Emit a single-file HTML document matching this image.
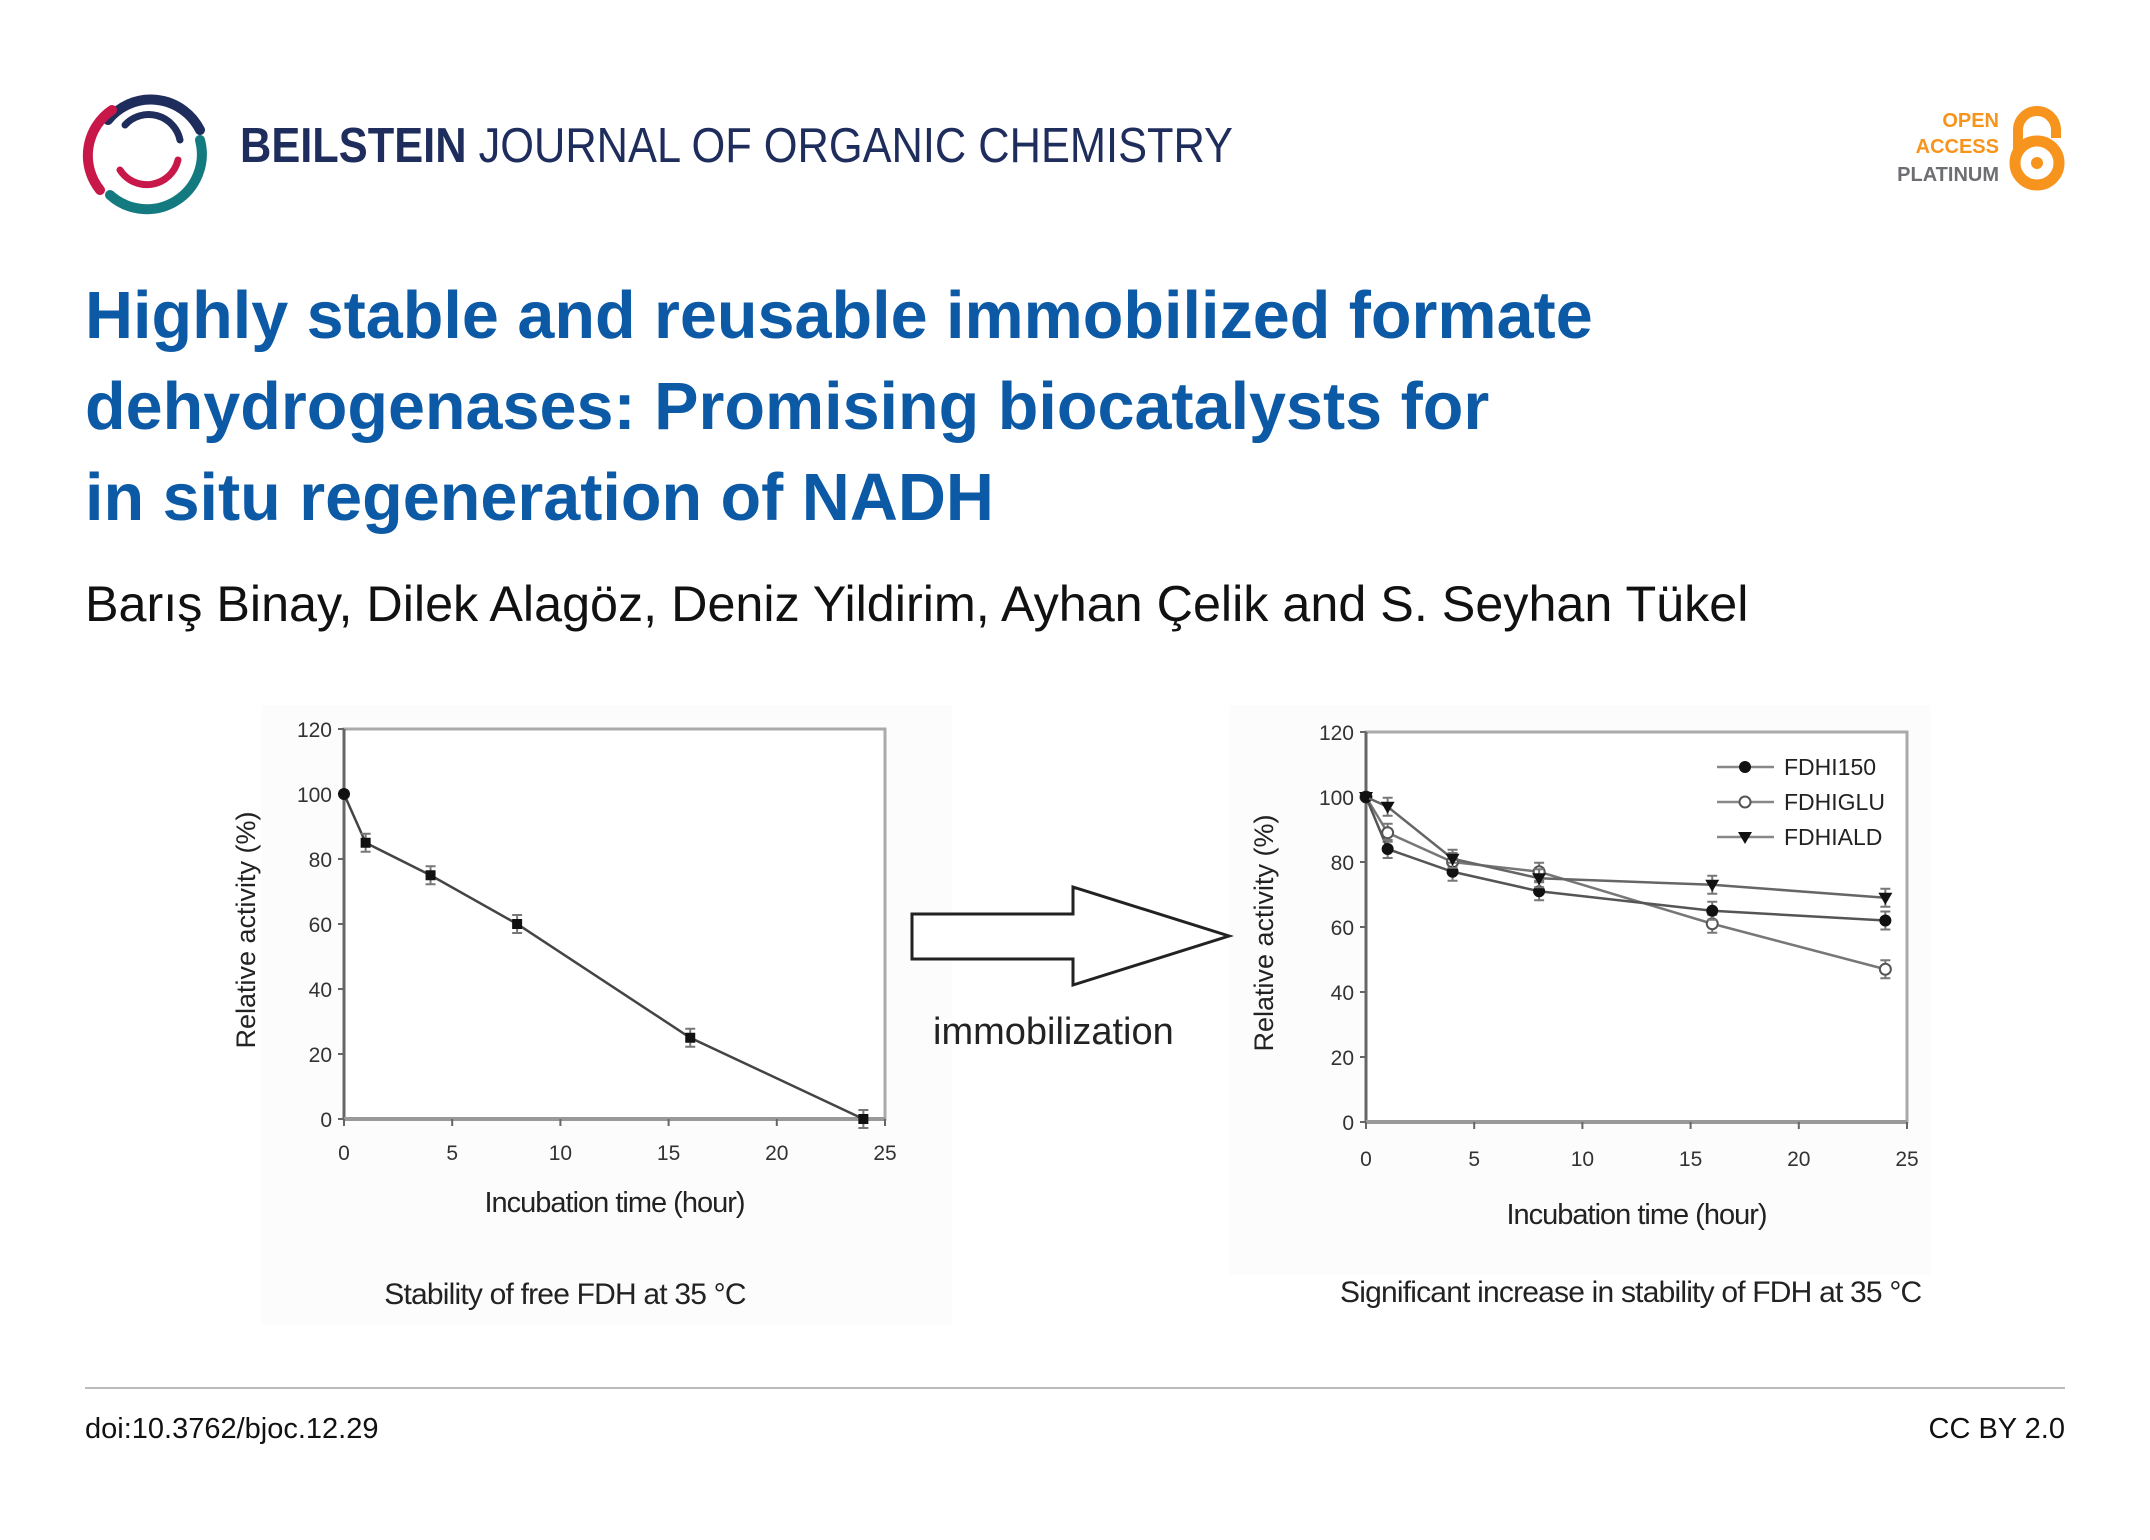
<!DOCTYPE html>
<html><head><meta charset="utf-8"><style>
html,body{margin:0;padding:0;background:#fff;}
svg{display:block;font-family:"Liberation Sans",Arial,sans-serif;}
</style></head><body>
<svg id="root" width="2150" height="1540" viewBox="0 0 2150 1540" xmlns="http://www.w3.org/2000/svg">
<g fill="none" stroke-width="10" stroke-linecap="round">
  <path d="M 108 120 A 55 55 0 0 1 200 130" stroke="#1e2d5c"/>
  <path d="M 100 190 A 55 55 0 0 1 112 110" stroke="#c8184a"/>
  <path d="M 200 140 A 55 55 0 0 1 110 195" stroke="#137a80"/>
  <path d="M 125 125 A 32 32 0 0 1 180 140" stroke="#1e2d5c" stroke-width="7"/>
  <path d="M 178 160 A 32 32 0 0 1 120 170" stroke="#c8184a" stroke-width="7"/>
</g>
<text x="240" y="162" font-size="49" fill="#1e2d5c" textLength="993" lengthAdjust="spacingAndGlyphs"><tspan font-weight="bold">BEILSTEIN</tspan> JOURNAL OF ORGANIC CHEMISTRY</text>
<g font-weight="bold" font-size="20" text-anchor="end">
  <text x="1999" y="127" fill="#f7941d">OPEN</text>
  <text x="1999" y="153" fill="#f7941d">ACCESS</text>
  <text x="1999" y="181" fill="#6d6e71">PLATINUM</text>
  <path d="M 2018 150 L 2018 130 A 19 19 0 0 1 2056 130 L 2056 138" fill="none" stroke="#f7941d" stroke-width="10"/>
  <circle cx="2037" cy="163" r="22" fill="none" stroke="#f7941d" stroke-width="11"/>
  <circle cx="2037" cy="163" r="6" fill="#f7941d"/>
</g>
<g font-size="66.5" font-weight="bold" fill="#0c5aa6">
  <text x="85" y="338">Highly stable and reusable immobilized formate</text>
  <text x="85" y="429">dehydrogenases: Promising biocatalysts for</text>
  <text x="85" y="520">in situ regeneration of NADH</text>
</g>
<text x="85" y="621" font-size="50.3" fill="#111">Barış Binay, Dilek Alagöz, Deniz Yildirim, Ayhan Çelik and S. Seyhan Tükel</text>

<rect x="262" y="705" width="690" height="620" fill="#fcfcfc"/>
<rect x="1230" y="705" width="700" height="570" fill="#fcfcfc"/>

<g id="leftChart"></g>
<g id="rightChart"></g>

<g>
  <polygon points="912,914 1073,914 1073,887 1229,936 1073,985 1073,959 912,959" fill="#fff" stroke="#222" stroke-width="3"/>
  <text x="933" y="1044" font-size="38" fill="#222">immobilization</text>
</g>

<line x1="85" y1="1388" x2="2065" y2="1388" stroke="#bbb" stroke-width="2"/>
<text x="85" y="1438" font-size="29" fill="#111">doi:10.3762/bjoc.12.29</text>
<text x="2065" y="1438" font-size="29" fill="#111" text-anchor="end">CC BY 2.0</text>
</svg>
<script>
const xTicks = [0, 5, 10, 15, 20, 25];
const yTicks = [0, 20, 40, 60, 80, 100, 120];
const freeTimes = [0, 1, 4, 8, 16, 24];
const freeActivity = [100, 85, 75, 60, 25, 0];
const immTimes = [0, 1, 4, 8, 16, 24];
const fdhi150 = [100, 84, 77, 71, 65, 62];
const fdhiGlu = [100, 89, 80, 77, 61, 47];
const fdhiAld = [100, 97, 81, 75, 73, 69];
const seriesNames = ["FDHI150", "FDHIGLU", "FDHIALD"];

const NS = "http://www.w3.org/2000/svg";
function mk(parent, tag, attrs, txt) {
  const e = document.createElementNS(NS, tag);
  for (const k in attrs) e.setAttribute(k, attrs[k]);
  if (txt !== undefined) e.textContent = txt;
  parent.appendChild(e);
  return e;
}
function drawAxes(g, L, T, W, H, yTitle, yTitleX, xTitleY, tickY) {
  const X = v => L + v / 25 * W, Y = v => T + H - v / 120 * H;
  const frame = mk(g, "rect", {x: L, y: T, width: W, height: H, fill: "#fff", stroke: "#aaa", "stroke-width": 3});
  
  
  mk(g, "line", {x1: L, y1: T, x2: L, y2: T + H, stroke: "#666", "stroke-width": 3});
  mk(g, "line", {x1: L, y1: T + H, x2: L + W, y2: T + H, stroke: "#999", "stroke-width": 4});
  yTicks.forEach(v => {
    mk(g, "line", {x1: L - 6, y1: Y(v), x2: L, y2: Y(v), stroke: "#666", "stroke-width": 2});
    const t = mk(g, "text", {x: L - 12, y: Y(v) + 8, "font-size": 21, fill: "#333", "text-anchor": "end"}, v);
    
    
  });
  xTicks.forEach(v => {
    mk(g, "line", {x1: X(v), y1: T + H, x2: X(v), y2: T + H + 7, stroke: "#666", "stroke-width": 2});
    const t = mk(g, "text", {x: X(v), y: tickY, "font-size": 21, fill: "#333", "text-anchor": "middle"}, v);
    
    
  });
  const yt = mk(g, "text", {x: 0, y: 0, "font-size": 27, fill: "#222", "text-anchor": "middle", transform: `translate(${yTitleX},${T + H / 2 + 6}) rotate(-90)`}, yTitle);
  
  
  const xt = mk(g, "text", {x: L + W / 2, y: xTitleY, "font-size": 29, fill: "#222", "text-anchor": "middle", "letter-spacing": "-1"}, "Incubation time (hour)");
  
  
  return {X, Y};
}
function marker(g, type, x, y) {
  let m;
  if (type === "circle") m = mk(g, "circle", {cx: x, cy: y, r: 6, fill: "#111"});
  else if (type === "open") m = mk(g, "circle", {cx: x, cy: y, r: 5.5, fill: "#fff", stroke: "#555", "stroke-width": 2});
  else if (type === "tri") m = mk(g, "polygon", {points: `${x - 7},${y - 5} ${x + 7},${y - 5} ${x},${y + 7}`, fill: "#111"});
  else m = mk(g, "rect", {x: x - 5, y: y - 5, width: 10, height: 10, fill: "#111"});
  
  
}
function series(g, ax, xs, ys, type, name, color) {
  const sg = mk(g, "g", {});
  
  
  const pts = xs.map((x, i) => ax.X(x) + "," + ax.Y(ys[i])).join(" ");
  mk(sg, "polyline", {points: pts, fill: "none", stroke: color, "stroke-width": 2.5});
  xs.forEach((x, i) => {
    const px = ax.X(x), py = ax.Y(ys[i]);
    if (i > 0) {
      mk(sg, "line", {x1: px, y1: py - 9, x2: px, y2: py + 9, stroke: "#777", "stroke-width": 2});
      mk(sg, "line", {x1: px - 5, y1: py - 9, x2: px + 5, y2: py - 9, stroke: "#777", "stroke-width": 2});
      mk(sg, "line", {x1: px - 5, y1: py + 9, x2: px + 5, y2: py + 9, stroke: "#777", "stroke-width": 2});
    }
    marker(sg, (type === "square" && i === 0) ? "circle" : type, px, py);
  });
}
// Left chart
const lg = document.getElementById("leftChart");
const lax = drawAxes(lg, 344, 729, 541, 390, "Relative activity (%)", 255, 1212, 1160);
series(lg, lax, freeTimes, freeActivity, "square", "free-fdh-series", "#444");
const lc = mk(lg, "text", {x: 565, y: 1304, "font-size": 30, fill: "#222", "text-anchor": "middle", "letter-spacing": "-0.8"}, "Stability of free FDH at 35 °C");


// Right chart
const rg = document.getElementById("rightChart");
const rax = drawAxes(rg, 1366, 732, 541, 390, "Relative activity (%)", 1273, 1224, 1166);
series(rg, rax, immTimes, fdhiGlu, "open", "series-fdhiglu", "#777");
series(rg, rax, immTimes, fdhi150, "circle", "series-fdhi150", "#555");
series(rg, rax, immTimes, fdhiAld, "tri", "series-fdhiald", "#666");
const types = ["circle", "open", "tri"];
const lgd = mk(rg, "g", {});


seriesNames.forEach((n, i) => {
  const y = 767 + i * 35;
  const e = mk(lgd, "g", {});
  
  
  mk(e, "line", {x1: 1717, y1: y, x2: 1774, y2: y, stroke: "#888", "stroke-width": 2.5});
  marker(e, types[i], 1745, y);
  mk(e, "text", {x: 1784, y: y + 8, "font-size": 23, fill: "#222"}, n);
});
const rc = mk(rg, "text", {x: 1340, y: 1302, "font-size": 30, fill: "#222", "letter-spacing": "-0.8"}, "Significant increase in stability of FDH at 35 °C");


</script>
</body></html>
